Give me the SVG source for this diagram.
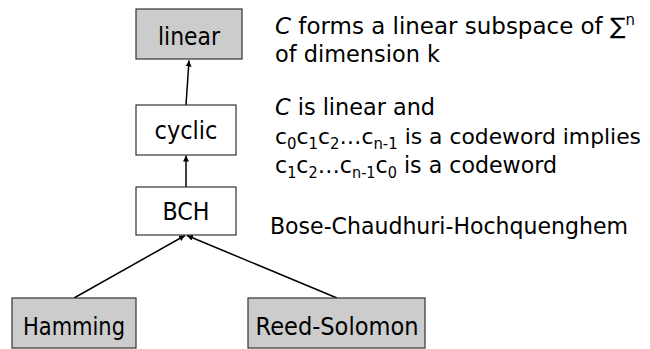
<svg xmlns="http://www.w3.org/2000/svg" width="650" height="349" viewBox="0 0 650 349">
<style>
.box{stroke:#333;stroke-width:1.2}
.g{fill:#cccccc}
.w{fill:#ffffff}
.lbl{font-family:"DejaVu Sans","Liberation Sans",sans-serif;font-size:24px;fill:#000;text-anchor:middle}
.txt{font-family:"DejaVu Sans","Liberation Sans",sans-serif;font-size:23px;fill:#000}
.sm{font-size:22px}
.sub{font-size:15px}
.conn{stroke:#000;stroke-width:1.5;fill:none;marker-end:url(#ah)}
</style>
<defs>
<marker id="ah" viewBox="0 0 10 10" refX="10" refY="5" markerWidth="6" markerHeight="6" markerUnits="userSpaceOnUse" orient="auto">
<path d="M0,0 L10,5 L0,10 z" fill="#000"/>
</marker>
</defs>
<rect width="650" height="349" fill="#fff"/>
<g id="connectors">
<line class="conn" x1="186" y1="105" x2="189" y2="60.5"/>
<line class="conn" x1="186" y1="187" x2="186" y2="155.5"/>
<line class="conn" x1="74" y1="298" x2="185" y2="235.5"/>
<line class="conn" x1="337" y1="298" x2="187" y2="235.5"/>
</g>
<g id="node-linear">
<rect class="box g" x="136" y="9" width="106" height="50"/>
<text class="lbl" x="189" y="45" textLength="62" lengthAdjust="spacingAndGlyphs">linear</text>
</g>
<g id="node-cyclic">
<rect class="box w" x="136" y="105" width="100" height="50"/>
<text class="lbl" x="186" y="139" textLength="63" lengthAdjust="spacingAndGlyphs">cyclic</text>
</g>
<g id="node-bch">
<rect class="box w" x="136" y="187" width="100" height="48"/>
<text class="lbl" x="186" y="220" textLength="47" lengthAdjust="spacingAndGlyphs">BCH</text>
</g>
<g id="node-hamming">
<rect class="box g" x="12" y="298" width="124" height="50"/>
<text class="lbl" x="74" y="335" textLength="102" lengthAdjust="spacingAndGlyphs">Hamming</text>
</g>
<g id="node-reed-solomon">
<rect class="box g" x="248" y="298" width="177" height="50"/>
<text class="lbl" x="337" y="335" textLength="163" lengthAdjust="spacingAndGlyphs">Reed-Solomon</text>
</g>
<g id="annotations">
<text class="txt" x="275" y="34" textLength="360" lengthAdjust="spacingAndGlyphs"><tspan font-style="italic">C</tspan> forms a linear subspace of ∑<tspan class="sub" dy="-9">n</tspan></text>
<text class="txt" x="275" y="62" textLength="165" lengthAdjust="spacingAndGlyphs">of dimension k</text>
<text class="txt" x="275" y="115" textLength="160" lengthAdjust="spacingAndGlyphs"><tspan font-style="italic">C</tspan> is linear and</text>
<text class="txt sm" x="275" y="144" textLength="366" lengthAdjust="spacingAndGlyphs">c<tspan class="sub" dy="5">0</tspan><tspan dy="-5">c</tspan><tspan class="sub" dy="5">1</tspan><tspan dy="-5">c</tspan><tspan class="sub" dy="5">2</tspan><tspan dy="-5">…c</tspan><tspan class="sub" dy="5">n-1</tspan><tspan dy="-5"> is a codeword implies</tspan></text>
<text class="txt" x="275" y="173" textLength="282" lengthAdjust="spacingAndGlyphs">c<tspan class="sub" dy="5">1</tspan><tspan dy="-5">c</tspan><tspan class="sub" dy="5">2</tspan><tspan dy="-5">…c</tspan><tspan class="sub" dy="5">n-1</tspan><tspan dy="-5">c</tspan><tspan class="sub" dy="5">0</tspan><tspan dy="-5"> is a codeword</tspan></text>
<text class="txt" x="270" y="234" textLength="358" lengthAdjust="spacingAndGlyphs">Bose-Chaudhuri-Hochquenghem</text>
</g>
</svg>
